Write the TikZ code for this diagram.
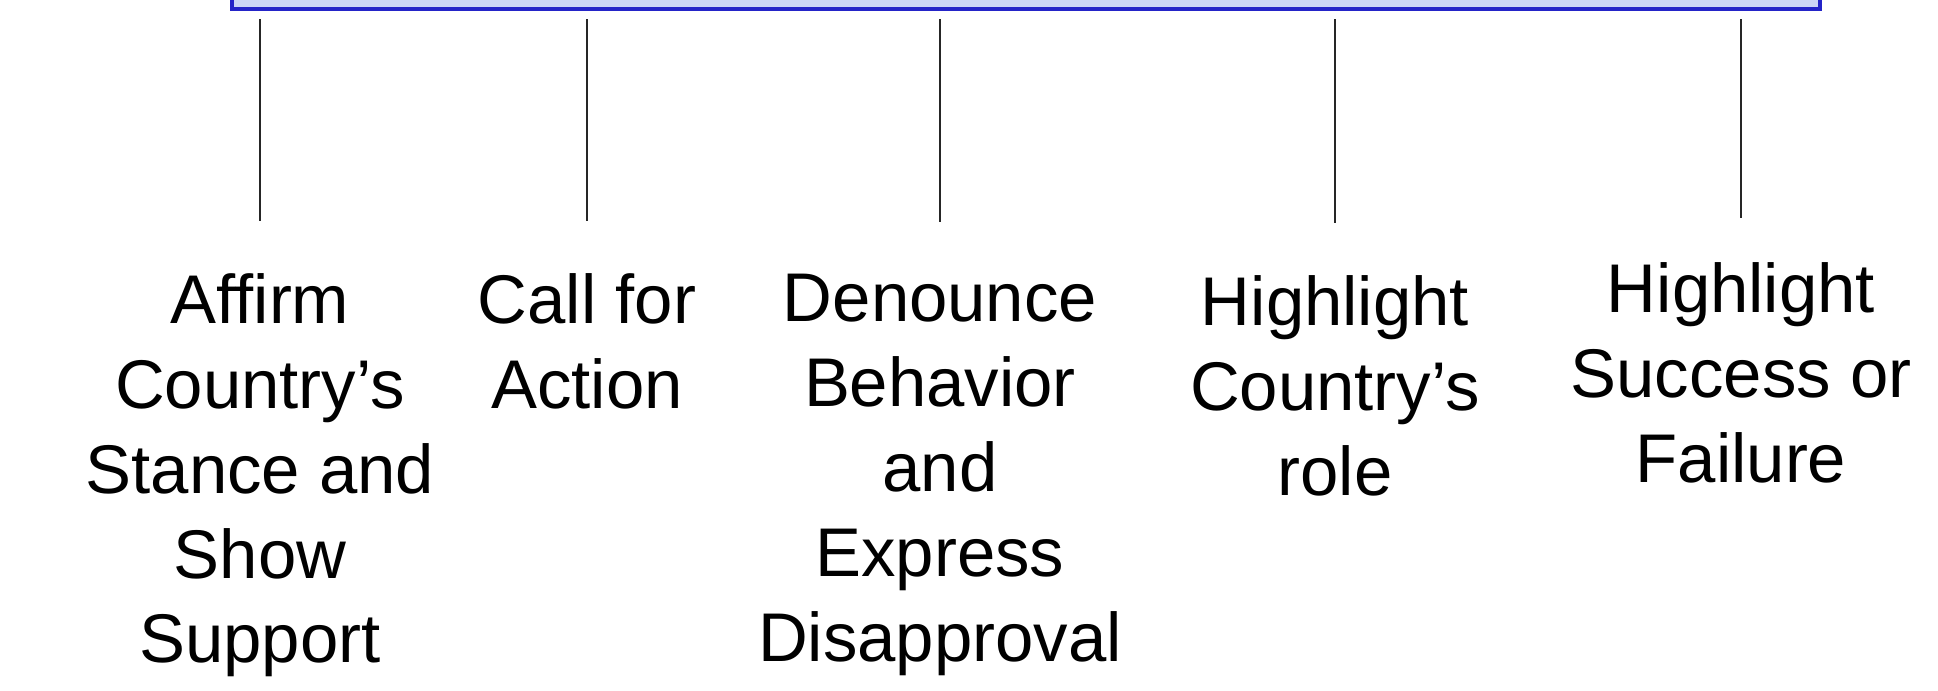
\documentclass[tikz,border=0pt]{standalone}
\usepackage{fontspec}
\setmainfont{Liberation Sans}
\usepackage{xcolor}
\usepackage{tikz}
\usetikzlibrary{positioning,calc}

\definecolor{boxfill}{RGB}{204,214,246}
\definecolor{boxedge}{RGB}{36,36,200}

\begin{document}
\begin{tikzpicture}[x=0.025cm, y=-0.025cm,
            topicbox/.style={draw=boxedge, fill=boxfill, line width=0.1cm, rectangle,
                 minimum width=39.7cm, minimum height=2.5cm, inner sep=0pt},
            lab/.style={align=center, anchor=north, inner sep=0pt,
                 font=\fontsize{49pt}{60.4pt}\selectfont},
            conn/.style={draw=black!85, line width=0.07cm, shorten <=0.2cm, shorten >=1.3cm}
            ]
            \useasboundingbox (0,0) rectangle (1938,690);

            % Nodes with manual coordinates
            \node[lab] (affirm) at (260,273) {Affirm\\Country’s\\Stance and\\Show\\Support};
            \node[lab] (call) at (587,273) {Call for\\Action};
            \node[lab] (denounce) at (940,274) {Denounce\\Behavior\\and\\Express\\Disapproval};
            \node[lab] (role) at (1335,275) {Highlight\\Country’s\\role};
            \node[lab] (success) at (1741,262) {Highlight\\Success or\\Failure};
            \node[topicbox] (topic) at (1026,-41) {};

            % Lines
            \draw[conn] (topic.south -| affirm.north) -- (affirm.north);
            \draw[conn] (topic.south -| call.north) -- (call.north);
            \draw[conn] (topic.south -| denounce.north) -- (denounce.north);
            \draw[conn] (topic.south -| role.north) -- (role.north);
            \draw[conn, shorten >=1.1cm] (topic.south -| success.north) -- (success.north);
        \end{tikzpicture}
\end{document}
